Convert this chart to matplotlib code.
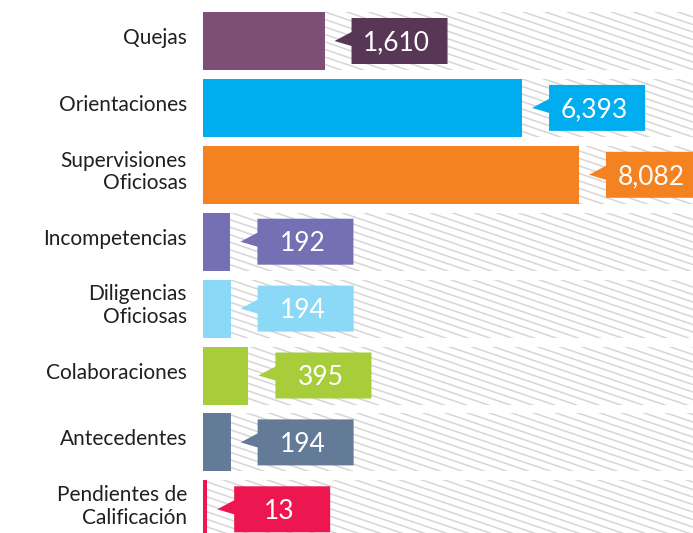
import matplotlib
matplotlib.use('Agg')
import matplotlib.pyplot as plt
import numpy as np
from matplotlib.patches import Polygon, Rectangle
from matplotlib.collections import LineCollection
from matplotlib.transforms import ScaledTranslation, Affine2D

categories = ["Quejas", "Orientaciones", "Supervisiones\nOficiosas", "Incompetencias",
              "Diligencias\nOficiosas", "Colaboraciones", "Antecedentes",
              "Pendientes de\nCalificación"]
values = [1610, 6393, 8082, 192, 194, 395, 194, 13]
value_labels = ["1,610", "6,393", "8,082", "192", "194", "395", "194", "13"]
bar_colors = ["#7D4E76", "#00AEEF", "#F58220", "#7570B3", "#8CD8F7", "#A8CD3A", "#637B96", "#EE1651"]
box_colors = ["#573656", "#00AEEF", "#F58220", "#7570B3", "#8CD8F7", "#A8CD3A", "#637B96", "#EE1651"]

plt.rcParams['font.family'] = ['Lato', 'DejaVu Sans']

W, H, DPI = 693, 533, 100
fig = plt.figure(figsize=(W / DPI, H / DPI), dpi=DPI)
fig.patch.set_facecolor('white')
ax_left = 203
ax_w = W - ax_left
ax = fig.add_axes([ax_left / W, 0, ax_w / W, 1])
ax.axis('off')

P = 0.7
ax.set_xscale('function', functions=(lambda v: np.power(np.clip(v, 0, None), P),
                                     lambda u: np.power(np.clip(u, 0, None), 1 / P)))
XMAX = 11800
ax.set_xlim(0, XMAX)
row_px = 66.9
ax.set_ylim((H - 41) / row_px, -41 / row_px)
bar_h = 58 / row_px

n = len(values)
ypos = np.arange(n)
ax.barh(ypos, values, height=bar_h, color=bar_colors, zorder=3)

# hatched background bands
slope = 0.34
spacing = 7.5
cs = np.arange(0, H + slope * ax_w + spacing, spacing)
segs = [[(0, c), (ax_w, c - slope * ax_w)] for c in cs]
hatch_trans = Affine2D().scale(1 / ax_w, 1 / H) + ax.transAxes
for i in range(n):
    rect = Rectangle((0, i - bar_h / 2), XMAX, bar_h, facecolor='none', edgecolor='none',
                     transform=ax.transData)
    ax.add_patch(rect)
    lc = LineCollection(segs, colors='#d6d6d6', linewidths=1.1, transform=hatch_trans, zorder=1)
    ax.add_collection(lc)
    lc.set_clip_path(rect)

# callouts
for i in range(n):
    tr = Affine2D() + ScaledTranslation(values[i], i, ax.transData)
    verts = [(10, 0), (27, 9), (27, 23), (123, 23), (123, -23), (27, -23), (27, -5)]
    poly = Polygon(verts, closed=True, facecolor=box_colors[i], edgecolor='none',
                   transform=tr, zorder=4, clip_on=False)
    ax.add_patch(poly)
    ax.text(72, -9.5, value_labels[i], transform=tr, ha='center', va='baseline',
            color='white', fontsize=19, zorder=5, clip_on=False)
    ltr = Affine2D() + ScaledTranslation(0, i, ax.transData)
    ax.text(-16, 3, categories[i], transform=ltr, ha='right', va='center',
            color='#231F20', fontsize=15, linespacing=1.15, clip_on=False)

fig.savefig('out.png', dpi=DPI, facecolor='white')
